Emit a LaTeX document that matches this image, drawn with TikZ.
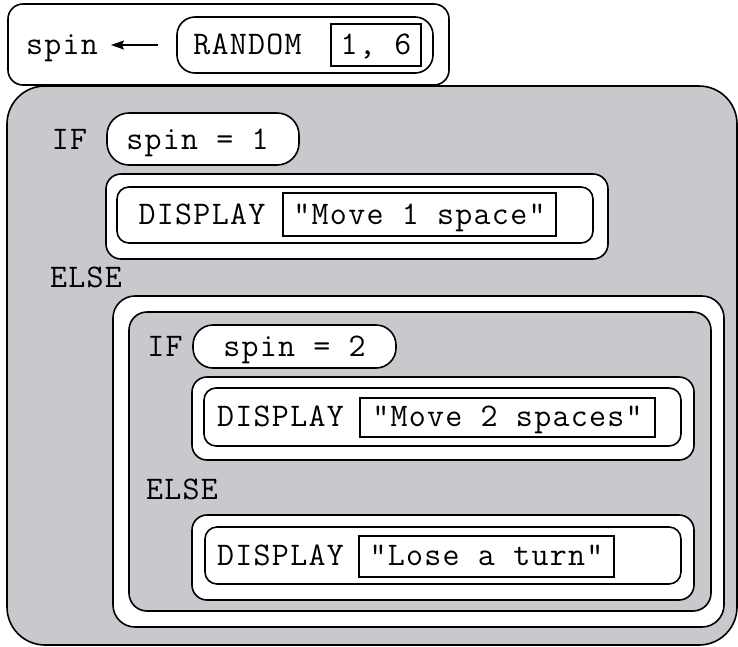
\documentclass[tikz,border=0pt]{standalone}
\usepackage{fontspec}
\usetikzlibrary{arrows.meta}
\newfontfamily\cour{Latin Modern Mono}[LetterSpace=3.9]
\definecolor{panel}{RGB}{201,200,205}
\tikzset{
  ln/.style={draw=black, line width=1.6pt},
  shp/.style={ln, rectangle, inner sep=0pt, outer sep=0pt},
  wbox/.style={shp, fill=white},
  gbox/.style={shp, fill=panel},
  tbox/.style={shp, fill=white, line width=1.5pt},
  lbl/.style={inner sep=0pt, outer sep=0pt, anchor=base, font=\cour\fontsize{33}{38}\selectfont},
  arr/.style={line width=1.5pt, -{Stealth[length=13pt,width=9pt,inset=2pt]}}
}
\begin{document}
\begin{tikzpicture}[x=1pt,y=-1pt]
\useasboundingbox (0,0) rectangle (738,646);
% big gray panel
\node[gbox, rounded corners=38pt, minimum width=730pt, minimum height=559pt] (panel) at (372,365.5) {};
% top statement
\node[wbox, rounded corners=15pt, minimum width=441pt, minimum height=81pt] (topbox) at (228.5,44.5) {};
\node[wbox, rounded corners=18pt, minimum width=256pt, minimum height=56pt] (randbox) at (305,45) {};
\node[tbox, minimum width=90pt, minimum height=42pt] (argbox) at (376,45) {};
\node[lbl] (spin) at (62,54) {spin};
\node[lbl] (random) at (247.5,54) {RANDOM};
\node[lbl] (args) at (376,54) {1, 6};
\draw[arr, shorten <=19pt, shorten >=13pt] (randbox.west) -- (randbox.west -| spin.east);
% IF 1
\node[lbl] (if1) at (69.5,149) {IF};
\node[wbox, rounded corners=22pt, minimum width=192pt, minimum height=52pt] (pill1) at (203,139) {};
\node[lbl] (cond1) at (197.5,149) {spin = 1};
% DISPLAY 1
\node[wbox, rounded corners=15pt, minimum width=502pt, minimum height=85pt] (d1out) at (357,216.5) {};
\node[wbox, rounded corners=12pt, minimum width=476pt, minimum height=56pt] (d1in) at (355,215) {};
\node[tbox, minimum width=273pt, minimum height=43pt] (t1) at (419.5,214.5) {};
\node[lbl] (disp1) at (202,224) {DISPLAY};
\node[lbl] (msg1) at (419.5,224) {"Move 1 space"};
% ELSE 1
\node[lbl] (else1) at (86,287) {ELSE};
% nested block
\node[wbox, rounded corners=22pt, minimum width=611pt, minimum height=331pt] (nout) at (418.5,461.5) {};
\node[gbox, rounded corners=18pt, minimum width=582pt, minimum height=299pt] (nin) at (420,461.5) {};
% IF 2
\node[lbl] (if2) at (165,356) {IF};
\node[wbox, rounded corners=20pt, minimum width=203pt, minimum height=43pt] (pill2) at (294.5,346.5) {};
\node[lbl] (cond2) at (294.5,356) {spin = 2};
% DISPLAY 2
\node[wbox, rounded corners=15pt, minimum width=502pt, minimum height=83pt] (d2out) at (443,418.5) {};
\node[wbox, rounded corners=12pt, minimum width=477pt, minimum height=58pt] (d2in) at (442.5,417) {};
\node[tbox, minimum width=295pt, minimum height=39pt] (t2) at (507.5,417.5) {};
\node[lbl] (disp2) at (280.5,426) {DISPLAY};
\node[lbl] (msg2) at (507.5,426) {"Move 2 spaces"};
% ELSE 2
\node[lbl] (else2) at (182,499) {ELSE};
% DISPLAY 3
\node[wbox, rounded corners=15pt, minimum width=502pt, minimum height=85pt] (d3out) at (443,557.5) {};
\node[wbox, rounded corners=12pt, minimum width=476pt, minimum height=57pt] (d3in) at (443,555.5) {};
\node[tbox, minimum width=255pt, minimum height=41pt] (t3) at (486.5,556.5) {};
\node[lbl] (disp3) at (280.5,565) {DISPLAY};
\node[lbl] (msg3) at (486.5,565) {"Lose a turn"};
\end{tikzpicture}
\end{document}
